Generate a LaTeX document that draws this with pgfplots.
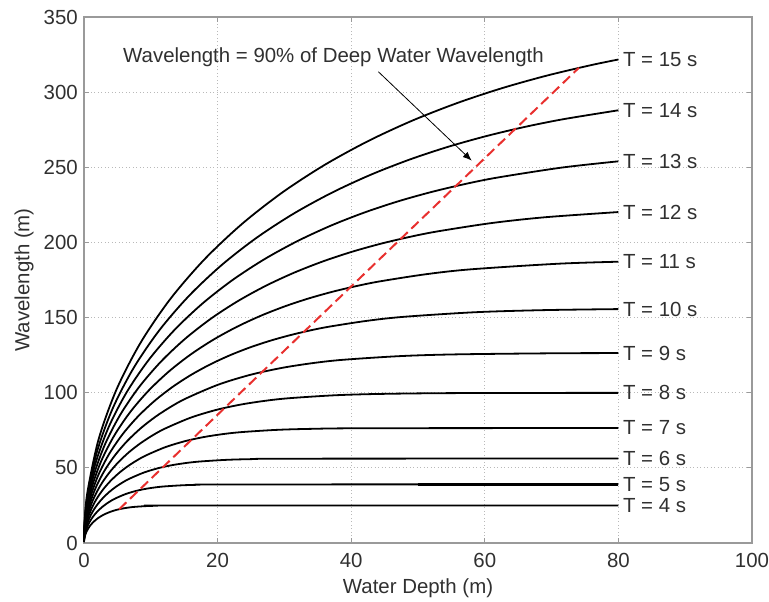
\documentclass[border=0pt]{standalone}
\usepackage{pgfplots}
\pgfplotsset{compat=1.18}
\usetikzlibrary{arrows.meta}
\usepackage{fontspec}
\setmainfont{Liberation Sans}

\definecolor{framegray}{HTML}{9A9A9A}
\definecolor{textgray}{HTML}{303030}
\definecolor{dashred}{HTML}{E8302E}

\newcommand{\chartfont}{\fontsize{20.5}{24}\selectfont}
\tikzset{
  curve/.style={black, line width=1.8bp, smooth},
  tlabel/.style={anchor=west, inner sep=0pt, xshift=4.5bp, font=\chartfont, text=textgray},
}

\begin{document}
\begin{tikzpicture}
\useasboundingbox (-84bp,-59bp) rectangle (685bp,543bp);
\begin{axis}[
  at={(0,0)}, anchor=south west,
  width=668bp, height=526bp, scale only axis,
  xmin=0, xmax=100, ymin=0, ymax=350,
  xtick={0,20,...,100}, ytick={0,50,...,350},
  grid=major,
  major grid style={gray!55, line width=0.8bp, dash pattern=on 1bp off 2.5bp},
  axis line style={framegray, line width=1.5bp},
  tick align=inside, major tick length=5bp,
  every tick/.style={framegray, line width=1bp},
  /pgf/number format/assume math mode=true,
  tick label style={font=\chartfont, text=textgray, inner sep=0pt},
  xticklabel shift=10bp, yticklabel shift=6bp,
  xlabel={Water Depth (m)}, ylabel={Wavelength (m)},
  label style={font=\chartfont, text=textgray},
  xlabel style={at={(axis description cs:0.5,-0.0856)}, anchor=center},
  ylabel style={at={(axis description cs:-0.0898,0.5)}, anchor=center},
  clip=false,
]

% T = 4 s
\addplot[curve] coordinates {
 (0.0016,0.500) (0.0099,1.248) (0.0396,2.490) (0.157,4.931) (0.3475,7.277)
 (0.6042,9.492) (0.9186,11.544) (1.2811,13.416) (1.6820,15.098) (2.1120,16.588)
 (2.5631,17.894) (3.0280,19.025) (3.9776,20.826) (4.9282,22.117) (5.8629,23.024)
 (6.7756,23.652) (7.6656,24.083) (9.3867,24.573) (11.050,24.796) (13.890,24.936)
 (80,24.98)};
% T = 5 s
\addplot[curve] coordinates {
 (0.0025,0.781) (0.0155,1.950) (0.0619,3.890) (0.2453,7.704) (0.5429,11.371)
 (0.9441,14.831) (1.4354,18.038) (2.0017,20.963) (2.6282,23.590) (3.2999,25.920)
 (4.0047,27.959) (4.7311,29.727) (6.2150,32.540) (7.7002,34.558) (9.1609,35.976)
 (10.587,36.957) (11.977,37.629) (14.667,38.396) (17.265,38.745) (21.703,38.962)
 (80,39.03)};
\addplot[black, line width=2.6bp] coordinates {(50,39.03) (80,39.03)};
% T = 6 s
\addplot[curve] coordinates {
 (0.0036,1.124) (0.0223,2.808) (0.0892,5.602) (0.3532,11.094) (0.7818,16.374)
 (1.3595,21.356) (2.0670,25.974) (2.8825,30.186) (3.7846,33.970) (4.7519,37.324)
 (5.7669,40.261) (6.8129,42.807) (8.9496,46.857) (11.088,49.763) (13.192,51.804)
 (15.245,53.217) (17.248,54.185) (21.120,55.289) (24.862,55.791) (31.252,56.105)
 (80,56.21)};
% T = 7 s
\addplot[curve] coordinates {
 (0.0049,1.530) (0.0304,3.822) (0.1214,7.625) (0.4807,15.100) (1.0642,22.286)
 (1.8504,29.068) (2.8134,35.354) (3.9235,41.086) (5.1513,46.237) (6.4679,50.802)
 (7.8494,54.800) (9.2731,58.265) (12.182,63.777) (15.093,67.733) (17.956,70.512)
 (20.751,72.435) (23.476,73.752) (28.747,75.254) (33.840,75.938) (42.538,76.365)
 (80,76.50)};
% T = 8 s
\addplot[curve] coordinates {
 (0.0064,1.998) (0.0397,4.992) (0.1585,9.959) (0.6278,19.723) (1.3899,29.109)
 (2.4168,37.966) (3.6745,46.177) (5.1244,53.664) (6.7281,60.391) (8.4477,66.354)
 (10.252,71.576) (12.112,76.101) (15.910,83.302) (19.712,88.468) (23.451,92.097)
 (27.102,94.609) (30.662,96.330) (37.546,98.292) (44.198,99.185) (55.558,99.742)
 (80,99.91)};
% T = 9 s
\addplot[curve] coordinates {
 (0.0081,2.529) (0.0503,6.318) (0.2006,12.605) (0.7947,24.962) (1.7592,36.841)
 (3.0589,48.051) (4.6508,58.443) (6.4858,67.919) (8.5156,76.433) (10.692,83.979)
 (12.976,90.587) (15.329,96.315) (20.137,105.428) (24.950,111.966) (29.682,116.560)
 (34.303,119.739) (38.808,121.917) (47.521,124.400) (55.941,125.530) (70.318,126.236)
 (80,126.38)};
% T = 10 s
\addplot[curve] coordinates {
 (0.0099,3.123) (0.0621,7.800) (0.2477,15.561) (0.9810,30.817) (2.1718,45.483)
 (3.7763,59.322) (5.7416,72.152) (8.0071,83.850) (10.513,94.361) (13.200,103.677)
 (16.019,111.837) (18.925,118.907) (21.881,124.983) (24.860,130.158) (27.837,134.541)
 (30.802,138.229) (33.738,141.323) (36.644,143.901)
 (42.348,147.826) (47.910,150.515) (58.667,153.580) (69.062,154.976) (80,155.64)};
% T = 11 s
\addplot[curve] coordinates {
 (0.0120,3.778) (0.0751,9.438) (0.2997,18.829) (1.1870,37.289) (2.6279,55.034)
 (4.5693,71.780) (6.9473,87.304) (9.6885,101.459) (12.720,114.177) (15.972,125.451)
 (19.383,135.323) (22.899,143.878) (26.476,151.230) (30.081,157.493) (33.682,162.796)
 (37.270,167.260) (40.823,171.000) (44.339,174.122)
 (51.241,178.871) (57.971,182.124) (70.987,185.832) (80,187.17)};
% T = 12 s
\addplot[curve] coordinates {
 (0.0143,4.497) (0.0894,11.232) (0.3566,22.409) (1.4127,44.377) (3.1273,65.495)
 (5.4378,85.424) (8.2678,103.898) (11.530,120.744) (15.138,135.880) (19.007,149.296)
 (23.067,161.045) (27.251,171.229) (31.509,179.976) (35.798,187.425) (40.084,193.739)
 (44.354,199.053) (48.582,203.505) (52.767,207.219)
 (60.980,212.870) (68.990,216.742) (80,220.21)};
% T = 13 s
\addplot[curve] coordinates {
 (0.0168,5.277) (0.1049,13.182) (0.4186,26.299) (1.6580,52.081) (3.6704,76.866)
 (6.3820,100.254) (9.7033,121.936) (13.532,141.707) (17.767,159.469) (22.308,175.217)
 (27.072,189.005) (31.983,200.955) (36.980,211.221) (42.014,219.967) (47.044,227.374)
 (52.055,233.608) (57.018,238.835) (61.929,243.194)
 (71.569,249.828) (80,253.97)};
% T = 14 s
\addplot[curve] coordinates {
 (0.0195,6.120) (0.1217,15.289) (0.4854,30.500) (1.9228,60.402) (4.2567,89.146)
 (7.4015,116.272) (11.253,141.417) (15.694,164.346) (20.605,184.948) (25.871,203.207)
 (31.397,219.199) (37.093,233.058) (42.887,244.969) (48.726,255.110) (54.559,263.701)
 (60.371,270.931) (66.127,276.996) (71.822,282.046)
 (80,287.93)};
% T = 15 s
\addplot[curve] coordinates {
 (0.0224,7.026) (0.1397,17.551) (0.5573,35.014) (2.2073,69.339) (4.8865,102.336)
 (8.4966,133.474) (12.918,162.341) (18.016,188.663) (23.654,212.314) (29.699,233.274)
 (36.043,251.633) (42.580,267.543) (49.233,281.212) (55.935,292.856) (62.631,302.718)
 (69.303,311.020) (75.910,317.975) (80,321.72)};

% depth where the wavelength reaches 90% of its deep water value
\addplot[dashred, line width=2bp, dash pattern=on 10bp off 5bp] coordinates {
 (5.268,22.48) (8.231,35.13) (11.853,50.59) (16.133,68.85) (21.071,89.93)
 (26.670,113.82) (32.925,140.52) (39.839,170.03) (47.411,202.35) (55.643,237.47)
 (64.533,275.42) (74.081,316.17)};

% period labels at the right-hand ends
\node[tlabel] at (axis cs:80,321.72) {T = 15 s};
\node[tlabel] at (axis cs:80,287.93) {T = 14 s};
\node[tlabel] at (axis cs:80,253.97) {T = 13 s};
\node[tlabel] at (axis cs:80,220.21) {T = 12 s};
\node[tlabel] at (axis cs:80,187.17) {T = 11 s};
\node[tlabel] at (axis cs:80,155.64) {T = 10 s};
\node[tlabel] at (axis cs:80,126.38) {T = 9 s};
\node[tlabel] at (axis cs:80,99.91) {T = 8 s};
\node[tlabel] at (axis cs:80,76.50) {T = 7 s};
\node[tlabel] at (axis cs:80,56.21) {T = 6 s};
\node[tlabel] at (axis cs:80,39.03) {T = 5 s};
\node[tlabel] at (axis cs:80,24.98) {T = 4 s};

% annotation with arrow
\node[anchor=base, inner sep=0pt, font=\chartfont, text=textgray] at (axis cs:37.35,319.4)
  {Wavelength = 90\% of Deep Water Wavelength};
\draw[black, line width=0.8bp, -{Latex[length=9bp,width=7bp]}]
  (axis cs:44.06,313.6) -- (axis cs:58.04,254.4);
\end{axis}
\end{tikzpicture}
\end{document}
